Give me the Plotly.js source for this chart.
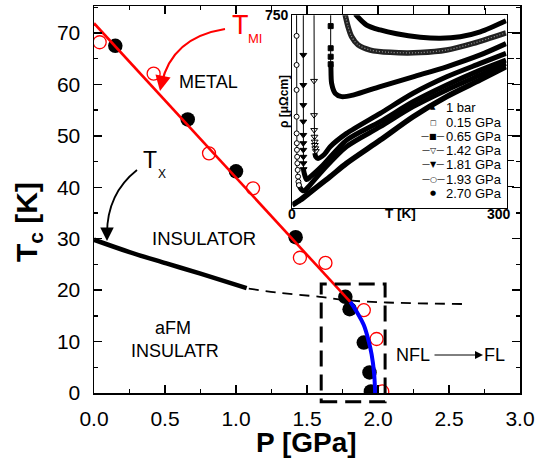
<!DOCTYPE html>
<html><head><meta charset="utf-8">
<script src="https://cdn.plot.ly/plotly-3.0.1.min.js"></script>
<style>html,body{margin:0;padding:0;background:#fff}#chart{width:543px;height:459px}</style>
</head><body><div id="chart"></div>
<script>
// ---------- main phase diagram data ----------
const P_black = [0.15, 0.66, 1.00, 1.42, 1.77, 1.80, 1.90, 1.94, 1.95];
const Tc_black = [67.5, 53.2, 43.1, 30.3, 18.7, 16.3, 9.8, 4.0, 0.3];
const P_red = [0.04, 0.42, 0.81, 1.12, 1.45, 1.63, 1.90, 1.99, 2.03];
const Tc_red = [68.2, 62.1, 46.6, 39.8, 26.3, 25.3, 16.1, 10.5, 0.3];
const P_tmi = [0.0, 1.805];
const T_tmi = [71.9, 17.7];
const P_blue = [1.805, 1.85, 1.90, 1.935, 1.955, 1.972, 1.98];
const T_blue = [17.7, 15.8, 13.2, 10.0, 7.5, 4.0, 0.0];
const P_tx = [0.0, 0.25, 0.51, 0.75, 1.075];
const T_tx = [29.8, 27.4, 25.2, 23.2, 20.4];
const P_txDash = [1.09, 1.30, 1.59, 1.80, 2.06, 2.60];
const T_txDash = [20.3, 19.5, 18.7, 18.0, 17.6, 17.3];

// ---------- inset: resistivity vs temperature ----------
const legendLabels = ['1 bar', '0.15 GPa', '0.65 GPa', '1.42 GPa', '1.81 GPa', '1.93 GPa', '2.70 GPa'];
const legendSymbols = ['▲', '□', '—■—', '—▽—', '—▼—', '—○—', '●'];

const T_1bar = [88, 104, 123, 146, 179, 207, 235, 263, 299];
const R_1bar = [755, 712, 693, 678, 665, 661, 667, 686, 729];
const T_015 = [73.5, 78, 83, 92, 109, 137, 179, 216, 253, 299];
const R_015 = [758, 706, 667, 635, 615, 606, 605, 615, 641, 682];
const T_065 = [53.7, 54, 55, 60, 69, 85, 123, 169, 216, 263, 299];
const R_065 = [560, 550, 486, 447, 434, 440, 473, 511, 550, 596, 640];
const T_065v = [53.7, 53.7];
const R_065v = [760, 560];
const T_065m = [53.7, 53.7, 53.7, 53.7];
const R_065m = [708, 622, 589, 560];
const T_142 = [31.5, 33, 36, 45, 53, 76, 123, 169, 216, 263, 299];
const R_142 = [215, 200, 194, 210, 239, 291, 369, 447, 511, 563, 602];
const T_142v = [30.4, 30.4, 31.0, 31.5];
const R_142v = [760, 400, 260, 215];
const T_142m = [30.4, 30.4, 30.6, 31.0, 31.3, 31.6, 32.2, 33.0];
const R_142m = [495, 362, 304, 278, 259, 246, 233, 222];
const T_181 = [15.6, 17.5, 20, 25, 43, 76, 123, 169, 216, 263, 299];
const R_181 = [150, 128, 112, 122, 168, 265, 337, 414, 479, 537, 576];
const T_181v = [15.4, 15.4, 15.6];
const R_181v = [760, 300, 150];
const T_181m = [15.4, 15.4, 15.4, 15.4, 15.4, 15.4, 15.4, 15.5, 15.6, 15.8];
const R_181m = [596, 479, 401, 337, 285, 253, 227, 200, 175, 152];
const T_193 = [8.5, 11, 14, 17, 22, 43, 76, 123, 169, 216, 263, 299];
const R_193 = [100, 80, 70, 68, 82, 149, 240, 317, 395, 460, 518, 563];
const T_193v = [6.0, 6.0, 6.5, 8.5];
const R_193v = [760, 300, 150, 100];
const T_193m = [6.0, 6.0, 6.0, 6.0, 6.1, 6.3, 6.5, 6.8, 7.1, 7.5, 8.0, 8.6, 9.3];
const R_193m = [670, 557, 460, 356, 291, 253, 227, 200, 175, 149, 123, 103, 90];
const T_270 = [0, 11, 29, 53, 76, 123, 169, 216, 263, 299];
const R_270 = [13, 32, 71, 123, 175, 265, 356, 434, 499, 550];

// ---------- helpers (pixel -> paper) for decorations ----------
const L = 94, R = 520, TOP = 6, BOT = 393;
const PX = p => (p - L) / (R - L);
const PY = p => (BOT - p) / (BOT - TOP);
const FONT = 'Liberation Sans, Arial, sans-serif';

const traces = [];
// main traces
traces.push({x: P_txDash, y: T_txDash, mode: 'lines', line: {color: '#000', width: 1.8, dash: '10px,7px', shape: 'spline'}, hoverinfo: 'skip'});
traces.push({x: P_tx, y: T_tx, mode: 'lines', line: {color: '#000', width: 4.5, shape: 'spline'}});
traces.push({x: P_black, y: Tc_black, mode: 'markers', marker: {symbol: 'circle', size: 14.5, color: '#000'}});
traces.push({x: P_red, y: Tc_red, mode: 'markers', marker: {symbol: 'circle-open', size: 13, color: '#ff0000', line: {width: 1.3}}});
traces.push({x: P_tmi, y: T_tmi, mode: 'lines', line: {color: '#ff0000', width: 2.6}});
traces.push({x: P_blue, y: T_blue, mode: 'lines', line: {color: '#0000ff', width: 4, shape: 'spline'}});

// inset traces
const ins = {xaxis: 'x2', yaxis: 'y2'};
const thick = (x, y, w, c) => Object.assign({x, y, mode: 'lines', line: {color: c || '#000', width: w || 4.5, shape: 'spline', smoothing: 0.8}}, ins);
traces.push(thick(T_1bar, R_1bar, 5));
traces.push(thick(T_015, R_015, 5.5, '#222'));
traces.push(Object.assign({x: T_015, y: R_015, mode: 'lines', line: {color: '#999', width: 1.2, dash: '1px,2px', shape: 'spline', smoothing: 0.8}}, ins));
traces.push(thick(T_065, R_065, 5));
traces.push(thick(T_142, R_142, 5));
traces.push(thick(T_181, R_181, 5));
traces.push(thick(T_193, R_193, 5));
traces.push(thick(T_270, R_270, 5.5));
const thin = (x, y) => Object.assign({x, y, mode: 'lines', line: {color: '#000', width: 1}}, ins);
traces.push(thin(T_065v, R_065v));
traces.push(thin(T_142v, R_142v));
traces.push(thin(T_181v, R_181v));
traces.push(thin(T_193v, R_193v));
const mk = (x, y, sym, size) => Object.assign({x, y, mode: 'markers', marker: {symbol: sym, size: size, color: '#000', line: {width: 1, color: '#000'}}}, ins);
traces.push(mk(T_065m, R_065m, 'square', 5));
traces.push(mk(T_142m, R_142m, 'triangle-down-open', 6));
traces.push(mk(T_181m, R_181m, 'triangle-down', 6));
traces.push(Object.assign(mk(T_193m, R_193m, 'circle-open', 5), {marker: {symbol: 'circle', size: 5, color: '#fff', line: {width: 1, color: '#000'}}}));

// annotations
const ann = [];
const txt = (text, px, py, size, opts) => ann.push(Object.assign({
  text, x: PX(px), y: PY(py), xref: 'paper', yref: 'paper', showarrow: false,
  xanchor: 'center', yanchor: 'middle', font: {family: FONT, size, color: '#000'}
}, opts || {}));
txt('METAL', 208, 82, 18);
txt('INSULATOR', 204, 238.5, 18.5);
txt('aFM', 173, 328, 18);
txt('INSULATR', 175, 351, 18);
txt('NFL', 412.5, 355, 18);
txt('FL', 494, 355, 18);
txt('T', 240, 25, 27, {font: {family: FONT, size: 27, color: '#ff0000'}});
txt('MI', 254.5, 38.5, 13, {font: {family: FONT, size: 13, color: '#ff0000'}});
txt('T', 150, 160, 23);
txt('X', 162, 174, 12);
txt('<b>T<sub>c</sub> [K]</b>', 28, 222, 30, {textangle: -90});
txt('<b>P [GPa]</b>', 306, 442.5, 28);
txt('<b>750</b>', 277, 15, 14);
txt('<b>0</b>', 292, 214, 14);
txt('<b>300</b>', 499, 214, 14);
txt('<b>T [K]</b>', 400, 214, 13.5);
txt('<b>ρ [μΩcm]</b>', 284, 102, 12, {textangle: -90});
const rows = [107.3, 122.7, 136.7, 150.7, 165, 179.3, 193.3];
legendLabels.forEach((lab, i) => {
  txt(lab, 443.5, rows[i], 13, {xanchor: 'left'});
  txt(legendSymbols[i], 433, rows[i], legendSymbols[i].length > 1 ? 8 : 7, {font: {family: 'DejaVu Sans', size: legendSymbols[i].length > 1 ? 8 : 7, color: '#000'}});
});
// arrowheads
const arrowHead = (px, py, ax, ay, color, w, s) => ann.push({
  x: PX(px), y: PY(py), xref: 'paper', yref: 'paper', text: '', showarrow: true,
  ax, ay, arrowhead: 2, arrowsize: s, arrowwidth: w, arrowcolor: color, standoff: 0
});
arrowHead(160, 91, 2, -10, '#ff0000', 2.2, 1.4);
arrowHead(107, 241, 0, -10, '#000', 1.8, 1.5);
arrowHead(483, 355, -50, 0, '#000', 1, 1.6);

// shapes
const pth = pts => 'M' + PX(pts[0]) + ',' + PY(pts[1]) + ' C' + PX(pts[2]) + ',' + PY(pts[3]) + ' ' + PX(pts[4]) + ',' + PY(pts[5]) + ' ' + PX(pts[6]) + ',' + PY(pts[7]);
const shapes = [
  {type: 'rect', xref: 'x', yref: 'paper', x0: 1.60, x1: 2.05, y0: -0.0225, y1: 0.2817,
   line: {color: '#000', width: 3, dash: '16px,8px'}},
  {type: 'path', xref: 'paper', yref: 'paper', path: pth([225, 29, 200, 33, 170, 45, 161.5, 84]), line: {color: '#ff0000', width: 2.2}},
  {type: 'path', xref: 'paper', yref: 'paper', path: pth([137, 170, 118, 185, 107, 205, 107, 234]), line: {color: '#000', width: 1.8}}
];

const axCommon = {showgrid: false, zeroline: false, showline: true, linecolor: '#000', linewidth: 1.5,
  ticks: 'inside', ticklen: 8, tickwidth: 1.5, tickcolor: '#000', mirror: 'ticks',
  tickfont: {family: FONT, size: 21, color: '#000'}};
const layout = {
  width: 543, height: 459, showlegend: false,
  margin: {l: L, r: 543 - R, t: TOP, b: 459 - BOT, pad: 0},
  paper_bgcolor: '#fff', plot_bgcolor: '#fff',
  font: {family: FONT, color: '#000'},
  xaxis: Object.assign({}, axCommon, {range: [0, 3], dtick: 0.5, tick0: 0, tickformat: '.1f', ticklabelstandoff: 6,
    minor: {dtick: 0.25, ticklen: 4, ticks: 'inside', tickcolor: '#000', tickwidth: 1.5}}),
  yaxis: Object.assign({}, axCommon, {range: [0, 75.25], dtick: 10, tick0: 0, ticklabelstandoff: 8,
    minor: {dtick: 5, ticklen: 4, ticks: 'inside', tickcolor: '#000', tickwidth: 1.5}}),
  xaxis2: {domain: [PX(292.3), PX(506.7)], anchor: 'y2', range: [0, 300], side: 'top',
    showgrid: false, zeroline: false, showline: true, mirror: true, linecolor: '#000', linewidth: 1,
    ticks: 'outside', ticklen: 6, tickcolor: '#000', tick0: 20, dtick: 50, showticklabels: false},
  yaxis2: {domain: [PY(208.3), PY(15.3)], anchor: 'x2', range: [0, 750], side: 'right',
    showgrid: false, zeroline: false, showline: true, mirror: true, linecolor: '#000', linewidth: 1,
    ticks: 'outside', ticklen: 6, tickcolor: '#000', tick0: 84, dtick: 100, showticklabels: false},
  annotations: ann, shapes: shapes
};
Plotly.newPlot('chart', traces, layout, {staticPlot: true, displayModeBar: false});
</script></body></html>
